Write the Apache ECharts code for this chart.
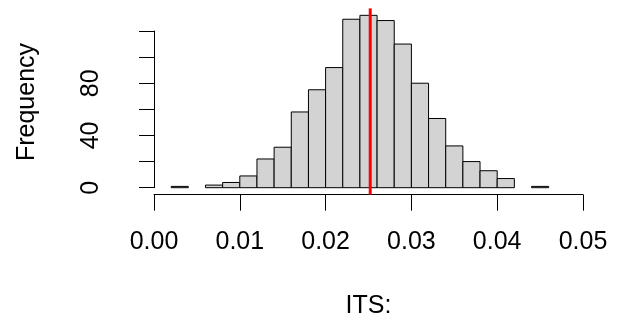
<!DOCTYPE html>
<html>
<head>
<meta charset="utf-8">
<script src="https://cdn.jsdelivr.net/npm/echarts@6/dist/echarts.min.js"></script>
<style>
  html, body { margin: 0; padding: 0; background: #fff; }
  #chart { width: 618px; height: 324px; }
</style>
</head>
<body>
<div id="chart"></div>
<script>
// histogram bins (left / right edges) and counts
var binLeft = [0.002, 0.004, 0.006, 0.008, 0.010, 0.012, 0.014, 0.016, 0.018, 0.020, 0.022,
               0.024, 0.026, 0.028, 0.030, 0.032, 0.034, 0.036, 0.038, 0.040, 0.042, 0.044];
var binRight = [0.004, 0.006, 0.008, 0.010, 0.012, 0.014, 0.016, 0.018, 0.020, 0.022, 0.024,
                0.026, 0.028, 0.030, 0.032, 0.034, 0.036, 0.038, 0.040, 0.042, 0.044, 0.046];
var counts = [1, 0, 2, 4, 9, 22, 31, 58, 75, 92, 129,
              132, 128, 110, 80, 53, 32, 20, 13, 7, 0, 1];
var xTicks = [0, 0.01, 0.02, 0.03, 0.04, 0.05];
var yLabelsShown = [0, 40, 80];
var refValue = 0.0252;   // red vertical line
var plotYRange = [-5.3, 137.3]; // R plot region (usr) y extent, for the abline

var font = '"Liberation Sans", Arial, sans-serif';

var bins = binLeft.map(function (l, i) { return [l, binRight[i], counts[i]]; });

var myChart = echarts.init(document.getElementById('chart'));
myChart.setOption({
	animation: false,
	grid: { left: 154, right: 35, top: 31, bottom: 136.3 },
	xAxis: {
		type: 'value',
		min: xTicks[0],
		max: xTicks[xTicks.length - 1],
		interval: 0.01,
		offset: 7,
		axisLine: { onZero: false, lineStyle: { color: '#000', width: 1 } },
		axisTick: { length: 16, lineStyle: { color: '#000', width: 1 } },
		axisLabel: {
			margin: 35,
			color: '#000',
			fontFamily: font,
			fontSize: 25,
			formatter: function (v) { return v.toFixed(2); }
		},
		splitLine: { show: false }
	},
	yAxis: {
		type: 'value',
		min: 0,
		max: 120,
		interval: 20,
		offset: 19,
		axisLine: { show: true, lineStyle: { color: '#000', width: 1 } },
		axisTick: { show: true, length: 15, lineStyle: { color: '#000', width: 1 } },
		axisLabel: {
			rotate: 90,
			margin: 31,
			color: '#000',
			fontFamily: font,
			fontSize: 25,
			formatter: function (v) { return yLabelsShown.indexOf(v) >= 0 ? String(v) : ''; }
		},
		splitLine: { show: false }
	},
	graphic: [
		{
			type: 'text', x: 27, y: 102, rotation: Math.PI / 2,
			style: { text: 'Frequency', fill: '#000', font: '25px ' + font, align: 'center', verticalAlign: 'middle' }
		},
		{
			type: 'text', x: 368.5, y: 306.5,
			style: { text: 'ITS:', fill: '#000', font: '25px ' + font, align: 'center', verticalAlign: 'middle' }
		}
	],
	series: [
		{
			type: 'custom',
			data: bins,
			clip: false,
			renderItem: function (params, api) {
				var c = api.value(2);
				if (!c) return null;
				var p0 = api.coord([api.value(0), 0]);
				var p1 = api.coord([api.value(1), c]);
				return {
					type: 'rect',
					shape: { x: p0[0], y: p1[1], width: p1[0] - p0[0], height: p0[1] - p1[1] },
					style: { fill: '#d3d3d3', stroke: '#000', lineWidth: 1 }
				};
			}
		},
		{
			type: 'custom',
			data: [[refValue]],
			clip: false,
			z: 5,
			renderItem: function (params, api) {
				var a = api.coord([api.value(0), plotYRange[1]]);
				var b = api.coord([api.value(0), plotYRange[0]]);
				return {
					type: 'line',
					shape: { x1: a[0], y1: a[1], x2: b[0], y2: b[1] },
					style: { stroke: '#ff0000', lineWidth: 3 }
				};
			}
		}
	]
});
</script>
</body>
</html>
